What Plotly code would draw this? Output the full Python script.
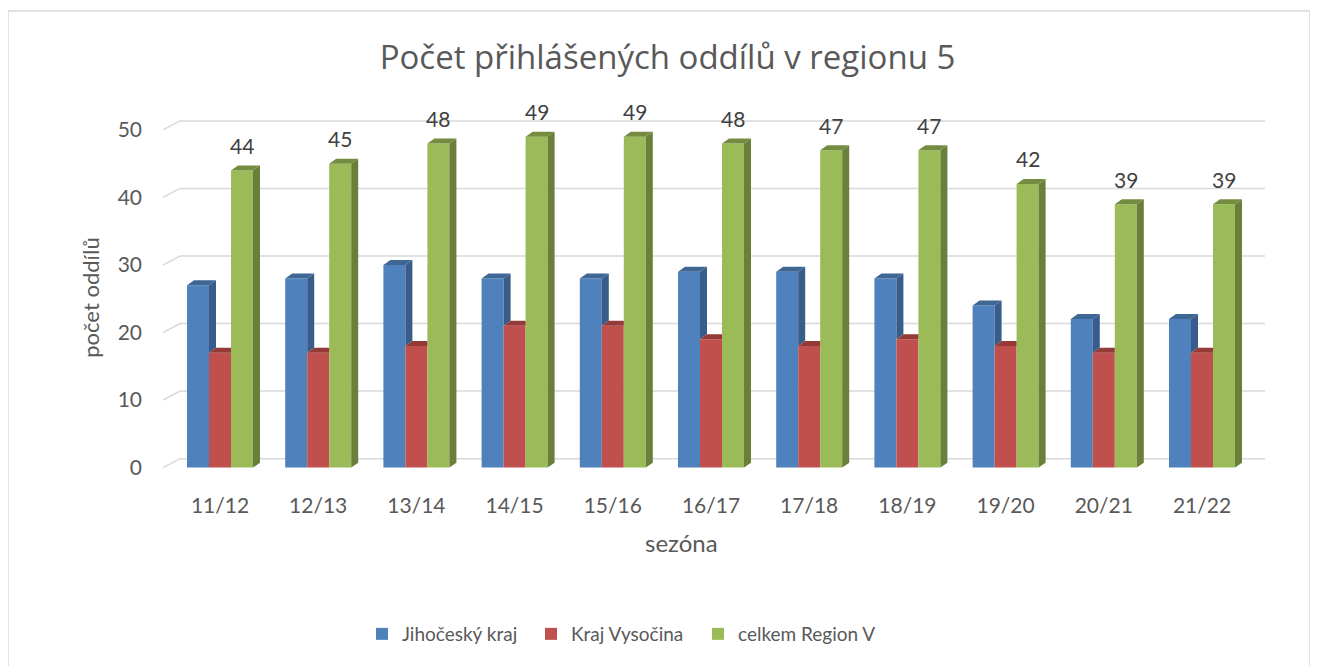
import plotly.graph_objects as go

# ---------------- data ----------------
seasons = ["11/12", "12/13", "13/14", "14/15", "15/16", "16/17",
           "17/18", "18/19", "19/20", "20/21", "21/22"]
jihocesky = [27, 28, 30, 28, 28, 29, 29, 28, 24, 22, 22]
vysocina = [17, 17, 18, 21, 21, 19, 18, 19, 18, 17, 17]
celkem = [44, 45, 48, 49, 49, 48, 47, 47, 42, 39, 39]
series_names = ["Jihočeský kraj", "Kraj Vysočina", "celkem Region V"]
y_ticks = [0, 10, 20, 30, 40, 50]

# ---------------- style / geometry ----------------
OFF = 8                      # page body margin in the browser
W, H = 1318 - OFF, 666 - OFF
FONT = "Lato, 'Open Sans', sans-serif"
TFONT = "'Open Sans', Lato, sans-serif"
GREY = "#595959"
front_cols = ["#4F81BD", "#C0504D", "#9BBB59"]
side_cols = ["#385D8A", "#8C3836", "#6A7F3A"]
cap_cols = ["#3E6795", "#943B38", "#748C40"]

PX_PER_CAT = 98.2
PX_PER_UNIT = 6.76
X_LEFT_PX, X_RIGHT_PX = 163 - OFF, 1265 - OFF
CAT0_PX = 220 - OFF
Y0_PX = 468 - OFF
YMIN, YMAX = -0.5, 52.5

xr0 = (X_LEFT_PX - CAT0_PX) / PX_PER_CAT
xr1 = (X_RIGHT_PX - CAT0_PX) / PX_PER_CAT
plot_bottom = Y0_PX - YMIN * PX_PER_UNIT
plot_top = Y0_PX - YMAX * PX_PER_UNIT
plot_h = plot_bottom - plot_top
plot_w = X_RIGHT_PX - X_LEFT_PX

bw = 22 / PX_PER_CAT          # bar width in category units
cdx = 7 / PX_PER_CAT          # bar depth (x)
cdy = 5 / PX_PER_UNIT         # bar depth (y)
wdx = 17 / PX_PER_CAT         # wall depth (x)
wdy = 9 / PX_PER_UNIT         # wall depth (y)


def px_x(p):
    return (p - OFF - X_LEFT_PX) / plot_w


def px_y(p):
    return (plot_bottom - (p - OFF)) / plot_h


values = [jihocesky, vysocina, celkem]
offsets = [-bw, 0.0, bw]
legend_w = [124, 122, 160]
xs = list(range(len(seasons)))

fig = go.Figure()

# front faces
for k in range(3):
    fig.add_trace(go.Bar(
        x=[i + offsets[k] for i in xs], y=values[k], width=bw,
        name=series_names[k], marker=dict(color=front_cols[k], line=dict(width=0)),
        hoverinfo="y+name", legendwidth=legend_w[k],
    ))

# 3D side faces and caps (derived from the data)
for k in range(3):
    sx, sy, cx, cy = [], [], [], []
    for i in xs:
        v = values[k][i]
        xl = i + offsets[k] - bw / 2
        xr = i + offsets[k] + bw / 2
        nxt = values[k + 1][i] if k + 1 < 3 else None
        lower = 0 if nxt is None else nxt
        if nxt is None or nxt < v:
            sx += [xr, xr, xr + cdx, xr + cdx, xr, None]
            sy += [lower, v, v + cdy, lower + cdy, lower, None]
            cx += [xl, xl + cdx, xr + cdx, xr, xl, None]
            cy += [v, v + cdy, v + cdy, v, v, None]
        else:
            cx += [xl, xl + cdx, xr, xr, xl, None]
            cy += [v, v + cdy, v + cdy, v, v, None]
    if sx:
        fig.add_trace(go.Scatter(x=sx, y=sy, mode="lines", fill="toself",
                                 fillcolor=side_cols[k], line=dict(width=0, color=side_cols[k]),
                                 hoverinfo="skip", showlegend=False))
    fig.add_trace(go.Scatter(x=cx, y=cy, mode="lines", fill="toself",
                             fillcolor=cap_cols[k], line=dict(width=0, color=cap_cols[k]),
                             hoverinfo="skip", showlegend=False))

# back-wall gridlines
shapes = []
for t in y_ticks:
    path = (f"M{xr0},{t} L{xr0 + wdx},{t + wdy} L{xr1},{t + wdy}")
    shapes.append(dict(type="path", path=path, xref="x", yref="y", layer="below",
                       line=dict(color="#D9D9D9", width=1.5)))

# chart border
shapes.append(dict(type="rect", xref="paper", yref="paper",
                   x0=px_x(8), x1=px_x(1310), y0=px_y(720), y1=px_y(11),
                   line=dict(color="#D9D9D9", width=1.5), layer="below"))

annotations = []
for i in xs:
    annotations.append(dict(x=i + offsets[2], y=celkem[i], xref="x", yref="y",
                            text=str(celkem[i]), showarrow=False, yshift=25,
                            xanchor="center", yanchor="middle",
                            font=dict(family=FONT, size=21, color="#404040")))
annotations.append(dict(x=px_x(91), y=px_y(298), xref="paper", yref="paper",
                        text="počet oddílů", showarrow=False, textangle=-90,
                        xanchor="center", yanchor="middle",
                        font=dict(family=FONT, size=22, color=GREY)))
annotations.append(dict(x=px_x(681), y=px_y(543), xref="paper", yref="paper",
                        text="sezóna", showarrow=False,
                        xanchor="center", yanchor="middle",
                        font=dict(family=FONT, size=24, color=GREY)))

fig.update_layout(
    width=W, height=H,
    margin=dict(l=X_LEFT_PX, r=W - X_RIGHT_PX, t=plot_top, b=H - plot_bottom, pad=0),
    paper_bgcolor="white", plot_bgcolor="white",
    barmode="overlay",
    title=dict(text="Počet přihlášených oddílů v regionu 5", xref="container", yref="container",
               x=(667.5 - OFF) / W, y=1 - (57 - OFF) / H, xanchor="center", yanchor="middle",
               font=dict(family=TFONT, size=33, color=GREY)),
    xaxis=dict(range=[xr0, xr1], tickvals=xs, ticktext=seasons, showgrid=False,
               zeroline=False, showline=False, ticks="", ticklabelstandoff=20,
               tickfont=dict(family=FONT, size=21, color=GREY), fixedrange=True),
    yaxis=dict(range=[YMIN, YMAX], tickvals=y_ticks, showgrid=False, zeroline=False,
               showline=False, ticks="", ticklabelstandoff=20,
               tickfont=dict(family=FONT, size=21, color=GREY), fixedrange=True),
    legend=dict(orientation="h", xref="container", yref="container",
                x=(362 - OFF) / W, y=1 - (634 - OFF) / H, xanchor="left", yanchor="middle",
                font=dict(family=FONT, size=19, color=GREY), traceorder="normal"),
    shapes=shapes, annotations=annotations,
    font=dict(family=FONT, color=GREY),
)

fig.write_html("out.html")
